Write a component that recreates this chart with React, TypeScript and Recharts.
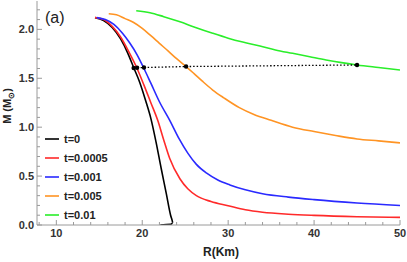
import React from 'react';
import { LineChart, Line, XAxis, YAxis, Legend } from 'recharts';

// mass-radius curves, one pair of arrays per t
const rT0 = [14.5, 15.5, 16.5, 17.5, 18.3, 19.0, 19.7, 20.4, 21.0, 21.6, 22.2, 22.8, 23.3, 23.5, 23.55, 23.3, 22.1];
const mT0 = [2.12, 2.09, 2.02, 1.9, 1.76, 1.61, 1.46, 1.27, 1.09, 0.85, 0.58, 0.32, 0.1, 0.04, 0.02, 0.006, 0.0];

const rT1 = [14.5, 15.5, 16.5, 17.5, 18.5, 19.4, 20.2, 21.0, 21.8, 22.5, 23.2, 24.4, 25.3, 26.3, 28, 30, 32, 34, 37, 40, 45, 50];
const mT1 = [2.12, 2.1, 2.03, 1.92, 1.76, 1.6, 1.43, 1.25, 1.07, 0.87, 0.68, 0.47, 0.37, 0.3, 0.24, 0.197, 0.155, 0.13, 0.11, 0.098, 0.085, 0.078];

const rT2 = [14.7, 15.7, 16.7, 17.7, 18.55, 19.4, 20.2, 21.0, 22.0, 23.2, 24.3, 25.3, 26.3, 27.5, 28.8, 30.2, 32, 34, 37, 40, 45, 50];
const mT2 = [2.12, 2.1, 2.05, 1.96, 1.86, 1.74, 1.6, 1.45, 1.26, 1.07, 0.88, 0.735, 0.62, 0.53, 0.46, 0.41, 0.36, 0.32, 0.285, 0.259, 0.225, 0.2];

const rT3 = [16.1, 17, 18, 19, 20, 21, 22, 23, 24, 25.1, 26, 27, 28.2, 29.5, 31.3, 33, 35, 37.5, 40, 42.5, 45, 47.5, 50];
const mT3 = [2.16, 2.15, 2.11, 2.07, 2.01, 1.935, 1.857, 1.78, 1.7, 1.62, 1.55, 1.47, 1.38, 1.3, 1.2, 1.13, 1.07, 1.0, 0.955, 0.915, 0.88, 0.86, 0.84];

const rT4 = [19.3, 20.9, 22.5, 24.3, 26.2, 28.2, 30, 31.7, 33.7, 35.5, 37.5, 39.5, 41.4, 43.2, 45, 47.5, 50];
const mT4 = [2.19, 2.17, 2.13, 2.08, 2.02, 1.96, 1.91, 1.87, 1.83, 1.79, 1.755, 1.72, 1.687, 1.66, 1.636, 1.61, 1.585];

// marked points joined by the dotted line
const rMark = [19.0, 19.4, 20.2, 25.1, 45.0];
const mMark = [1.605, 1.607, 1.61, 1.62, 1.636];

const labels = ['t=0', 't=0.0005', 't=0.001', 't=0.005', 't=0.01'];
const colors = ['#000000', '#ff2a2a', '#2a2aff', '#ff9424', '#2aee2a'];

const xTicks = [8, 10, 12, 14, 16, 18, 20, 22, 24, 26, 28, 30, 32, 34, 36, 38, 40, 42, 44, 46, 48, 50];
const xMajor = [10, 20, 30, 40, 50];
const yTicks = [0, 0.1, 0.2, 0.3, 0.4, 0.5, 0.6, 0.7, 0.8, 0.9, 1.0, 1.1, 1.2, 1.3, 1.4, 1.5, 1.6, 1.7, 1.8, 1.9, 2.0, 2.1, 2.2];
const yMajor = [0, 0.5, 1.0, 1.5, 2.0];

const zip = (r: number[], m: number[]) => r.map((v, i) => ({ r: v, m: m[i] }));
const series = [zip(rT0, mT0), zip(rT1, mT1), zip(rT2, mT2), zip(rT3, mT3), zip(rT4, mT4)];
const marks = zip(rMark, mMark);

const FONT = '"Liberation Sans", Arial, sans-serif';
const FRAME = '#9a9a9a';

const isMajor = (list: number[], v: number) => list.some(t => Math.abs(t - v) < 1e-6);

const BottomTick = (props: any) => {
  const { x, y, payload } = props;
  const major = isMajor(xMajor, payload.value);
  return (
    <g>
      <line x1={x} x2={x} y1={y} y2={y - (major ? 5 : 3)} stroke={FRAME} />
      {major && (
        <text x={x} y={y + 12} textAnchor="middle" fontSize={11} fontWeight="bold" fill="#333" fontFamily={FONT}>
          {payload.value}
        </text>
      )}
    </g>
  );
};

const TopTick = (props: any) => {
  const { x, y, payload } = props;
  const major = isMajor(xMajor, payload.value);
  return <line x1={x} x2={x} y1={y} y2={y + (major ? 5 : 3)} stroke={FRAME} />;
};

const LeftTick = (props: any) => {
  const { x, y, payload } = props;
  const major = isMajor(yMajor, payload.value);
  return (
    <g>
      <line x1={x} x2={x + (major ? 5 : 3)} y1={y} y2={y} stroke={FRAME} />
      {major && (
        <text x={x - 3} y={y + 4} textAnchor="end" fontSize={11} fontWeight="bold" fill="#333" fontFamily={FONT}>
          {payload.value.toFixed(1)}
        </text>
      )}
    </g>
  );
};

const RightTick = (props: any) => {
  const { x, y, payload } = props;
  const major = isMajor(yMajor, payload.value);
  return <line x1={x} x2={x - (major ? 5 : 3)} y1={y} y2={y} stroke={FRAME} />;
};

const MarkDot = (props: any) => <circle key={props.index} cx={props.cx} cy={props.cy} r={2.2} fill="#000" />;

const LegendBox = () => (
  <div style={{ fontFamily: FONT, fontSize: 11, fontWeight: 'bold', color: '#222' }}>
    {labels.map((l, i) => (
      <div key={l} style={{ display: 'flex', alignItems: 'center', height: 19 }}>
        <svg width={14} height={4} style={{ marginRight: 5 }}>
          <line x1={0} x2={14} y1={2} y2={2} stroke={colors[i]} strokeWidth={1.6} />
        </svg>
        {l}
      </div>
    ))}
  </div>
);

export default function App() {
  return (
    <div style={{ position: 'absolute', left: 0, top: 0, width: 407, height: 262, background: '#fff' }}>
      <LineChart width={407} height={262} margin={{ top: 1, right: 7, bottom: 0, left: 7 }}>
        <XAxis
          xAxisId="b"
          dataKey="r"
          type="number"
          domain={[7.75, 50]}
          allowDataOverflow
          ticks={xTicks}
          interval={0}
          height={37}
          tickSize={0}
          tickMargin={0}
          tickLine={false}
          tick={<BottomTick />}
          stroke={FRAME}
          label={{
            content: () => (
              <text x={221} y={256} textAnchor="middle" fontSize={12} fontWeight="bold" fill="#222" fontFamily={FONT}>
                R(Km)
              </text>
            ),
          }}
        />
        <XAxis
          xAxisId="t"
          dataKey="r"
          type="number"
          orientation="top"
          domain={[7.75, 50]}
          allowDataOverflow
          ticks={xTicks}
          interval={0}
          height={0}
          tickSize={0}
          tickMargin={0}
          tickLine={false}
          tick={<TopTick />}
          stroke={FRAME}
        />
        <YAxis
          yAxisId="l"
          type="number"
          domain={[0, 2.29]}
          allowDataOverflow
          ticks={yTicks}
          interval={0}
          width={30}
          tickSize={0}
          tickMargin={0}
          tickLine={false}
          tick={<LeftTick />}
          stroke={FRAME}
          label={{
            content: () => (
              <text
                x={11}
                y={106}
                transform="rotate(-90 11 106)"
                textAnchor="middle"
                fontSize={11}
                fontWeight="bold"
                fill="#222"
                fontFamily={FONT}
              >
                M (M<tspan fontSize={8} dy={3}>⊙</tspan>
                <tspan dy={-3}>)</tspan>
              </text>
            ),
          }}
        />
        <YAxis
          yAxisId="r"
          type="number"
          orientation="right"
          domain={[0, 2.29]}
          allowDataOverflow
          ticks={yTicks}
          interval={0}
          width={0}
          tickSize={0}
          tickMargin={0}
          tickLine={false}
          tick={<RightTick />}
          stroke={FRAME}
        />
        <Legend
          layout="vertical"
          align="center"
          verticalAlign="middle"
          content={<LegendBox />}
          wrapperStyle={{ position: 'absolute', left: 45, top: 129, width: 'auto', height: 'auto' }}
        />
        {series.map((d, i) => (
          <Line
            key={labels[i]}
            xAxisId="b"
            yAxisId="l"
            data={d}
            dataKey="m"
            name={labels[i]}
            type="monotone"
            stroke={colors[i]}
            strokeWidth={1.6}
            dot={false}
            isAnimationActive={false}
          />
        ))}
        <Line
          xAxisId="b"
          yAxisId="l"
          data={marks}
          dataKey="m"
          name="marks"
          type="linear"
          stroke="#000"
          strokeWidth={1.3}
          strokeDasharray="1.5 2"
          dot={<MarkDot />}
          legendType="none"
          isAnimationActive={false}
        />
      </LineChart>
      <div style={{ position: 'absolute', left: 45, top: 9, fontFamily: FONT, fontSize: 16, color: '#222' }}>(a)</div>
    </div>
  );
}
